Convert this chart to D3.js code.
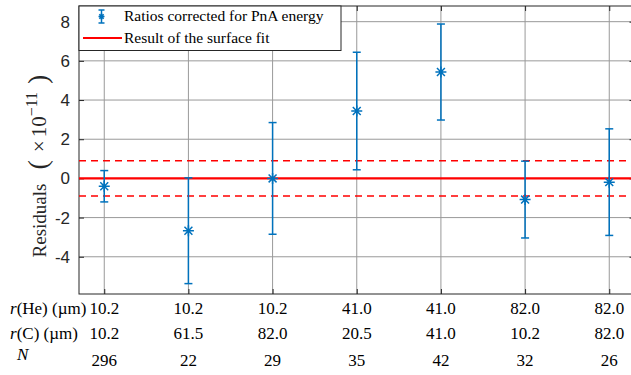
<!DOCTYPE html>
<html>
<head>
<meta charset="utf-8">
<script src="https://cdn.jsdelivr.net/npm/d3@7"></script>
<style>
  body { margin: 0; background: #fff; }
  svg { display: block; }
  .serif { font-family: 'Liberation Serif', 'Times New Roman', serif; }
  .sans { font-family: 'Liberation Sans', Arial, sans-serif; }
</style>
</head>
<body>
<div id="chart"></div>
<script>
// data
const rHe = ['10.2', '10.2', '10.2', '41.0', '41.0', '82.0', '82.0'];
const rC = ['10.2', '61.5', '82.0', '20.5', '41.0', '10.2', '82.0'];
const counts = ['296', '22', '29', '35', '42', '32', '26'];
const residuals = [-0.4, -2.67, 0.0, 3.44, 5.43, -1.08, -0.19];
const errors = [0.8, 2.7, 2.85, 3.0, 2.45, 1.96, 2.72];
const fitValue = 0;
const fitBand = 0.9;
const yTicks = [-4, -2, 0, 2, 4, 6, 8];

const width = 631, height = 375;
const plotL = 79, plotT = 6, plotR = 634.5, plotB = 294;
const blue = '#0072BD', red = '#ff0000';

const svg = d3.select('#chart').append('svg')
  .attr('width', width)
  .attr('height', height);

const x = d3.scaleLinear().domain([0.7, 7.3]).range([plotL, plotR]);
const y = d3.scaleLinear().domain([-5.9, 8.8]).range([plotB, plotT]);
const idx = d3.range(1, residuals.length + 1);

// grid
svg.append('g').selectAll('line').data(yTicks).join('line')
  .attr('x1', plotL).attr('x2', plotR)
  .attr('y1', d => y(d)).attr('y2', d => y(d))
  .attr('stroke', '#999').attr('stroke-width', 1);
svg.append('g').selectAll('line').data(idx).join('line')
  .attr('x1', d => x(d)).attr('x2', d => x(d))
  .attr('y1', plotT).attr('y2', plotB)
  .attr('stroke', '#999').attr('stroke-width', 1);

// axes (MATLAB style, ticks inward)
const tick = 5;
svg.append('g').attr('transform', `translate(${plotL},0)`)
  .call(d3.axisLeft(y).tickValues(yTicks).tickSize(-tick).tickPadding(9).tickFormat(d => String(d)))
  .call(g => g.select('.domain').remove())
  .call(g => g.selectAll('text').attr('class', 'sans')
    .attr('font-size', 17).attr('fill', '#262626'));
svg.append('g').attr('transform', `translate(${plotR},0)`)
  .call(d3.axisRight(y).tickValues(yTicks).tickSize(-tick).tickFormat(''))
  .call(g => g.select('.domain').remove());
svg.append('g').attr('transform', `translate(0,${plotB})`)
  .call(d3.axisBottom(x).tickValues(idx).tickSize(-tick).tickFormat(''))
  .call(g => g.select('.domain').remove());
svg.append('g').attr('transform', `translate(0,${plotT})`)
  .call(d3.axisTop(x).tickValues(idx).tickSize(-tick).tickFormat(''))
  .call(g => g.select('.domain').remove());
svg.selectAll('.tick line').attr('stroke', '#262626');
svg.selectAll('g').attr('font-family', null);

svg.append('rect')
  .attr('x', plotL).attr('y', plotT)
  .attr('width', plotR - plotL).attr('height', plotB - plotT)
  .attr('fill', 'none').attr('stroke', '#262626').attr('stroke-width', 1);

// fit result and band
svg.append('line')
  .attr('x1', plotL).attr('x2', plotR)
  .attr('y1', y(fitValue)).attr('y2', y(fitValue))
  .attr('stroke', red).attr('stroke-width', 2.2);
[fitValue + fitBand, fitValue - fitBand].forEach(v => {
  svg.append('line')
    .attr('x1', plotL).attr('x2', plotR)
    .attr('y1', y(v)).attr('y2', y(v))
    .attr('stroke', red).attr('stroke-width', 1.6)
    .attr('stroke-dasharray', '7,5');
});

// error bars
const pts = svg.append('g').selectAll('g').data(residuals).join('g')
  .attr('stroke', blue).attr('stroke-width', 1.5).attr('fill', 'none');
pts.append('line')
  .attr('x1', (d, i) => x(i + 1)).attr('x2', (d, i) => x(i + 1))
  .attr('y1', (d, i) => y(d - errors[i])).attr('y2', (d, i) => y(d + errors[i]));
[-1, 1].forEach(s => {
  pts.append('line')
    .attr('x1', (d, i) => x(i + 1) - 4).attr('x2', (d, i) => x(i + 1) + 4)
    .attr('y1', (d, i) => y(d + s * errors[i])).attr('y2', (d, i) => y(d + s * errors[i]));
});

function asterisk(g, cx, cy, r) {
  const a = r * 0.72;
  g.append('path')
    .attr('d', `M${cx - r},${cy}H${cx + r}M${cx},${cy - r}V${cy + r}` +
      `M${cx - a},${cy - a}L${cx + a},${cy + a}M${cx - a},${cy + a}L${cx + a},${cy - a}`);
}
pts.each(function (d, i) { asterisk(d3.select(this), x(i + 1), y(d), 5.5); });

// legend
const lg = svg.append('g');
lg.append('rect').attr('x', plotL).attr('y', plotT).attr('width', 262).attr('height', 44.5)
  .attr('fill', '#fff').attr('stroke', '#262626').attr('stroke-width', 1);
const li = lg.append('g').attr('stroke', blue).attr('stroke-width', 1.5).attr('fill', 'none');
li.append('line').attr('x1', 101.5).attr('x2', 101.5).attr('y1', 10).attr('y2', 23);
li.append('line').attr('x1', 98.5).attr('x2', 104.5).attr('y1', 10).attr('y2', 10);
li.append('line').attr('x1', 98.5).attr('x2', 104.5).attr('y1', 23).attr('y2', 23);
asterisk(li, 101.5, 16.5, 3);
lg.append('line').attr('x1', 83).attr('x2', 122).attr('y1', 38).attr('y2', 38)
  .attr('stroke', red).attr('stroke-width', 2.2);
const legendText = ['Ratios corrected for PnA energy', 'Result of the surface fit'];
lg.selectAll('text').data(legendText).join('text')
  .attr('class', 'serif')
  .attr('x', 124).attr('y', (d, i) => 21 + i * 22)
  .attr('font-size', 15.5).attr('fill', '#000')
  .text(d => d);

// y label: Residuals (×10^-11)
const yl = svg.append('text')
  .attr('class', 'serif')
  .attr('transform', 'translate(46,166) rotate(-90)')
  .attr('text-anchor', 'middle')
  .attr('font-size', 19).attr('fill', '#262626');
yl.append('tspan').text('Residuals');
yl.append('tspan').attr('dx', 14).attr('font-size', 28).attr('dy', 1).text('(');
yl.append('tspan').attr('dx', 8).attr('font-size', 21).attr('dy', -1).text('×');
yl.append('tspan').attr('dx', 3).attr('font-size', 21).text('10');
yl.append('tspan').attr('dy', -9).attr('font-size', 16).text('−11');
yl.append('tspan').attr('dx', 8).attr('dy', 10).attr('font-size', 28).text(')');

// table under the axis
const rows = [rHe, rC, counts];
const rowY = [314, 339, 366];
rows.forEach((row, r) => {
  svg.append('g').selectAll('text').data(row).join('text')
    .attr('class', 'serif')
    .attr('x', (d, i) => x(i + 1)).attr('y', rowY[r])
    .attr('text-anchor', 'middle')
    .attr('font-size', 17).attr('fill', '#000')
    .text(d => d);
});
const rowLabels = [['r', '(He) (µm)'], ['r', '(C) (µm)'], ['N', '']];
rowLabels.forEach((lab, r) => {
  const t = svg.append('text')
    .attr('class', 'serif')
    .attr('x', r === 2 ? 17 : 10).attr('y', rowY[r] - (r === 2 ? 6 : 0))
    .attr('font-size', 17).attr('fill', '#000');
  t.append('tspan').attr('font-style', 'italic').text(lab[0]);
  t.append('tspan').text(lab[1]);
});
</script>
</body>
</html>
